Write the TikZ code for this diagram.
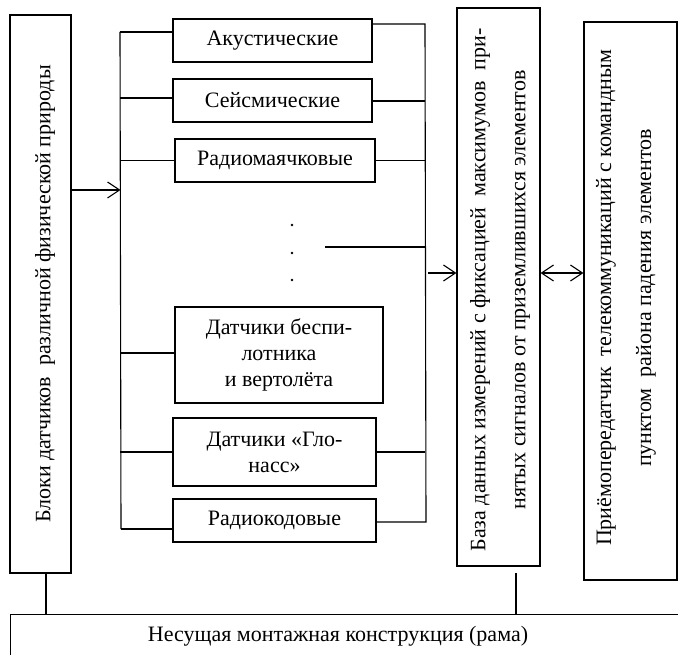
\documentclass[tikz,border=0pt]{standalone}
\usepackage{fontspec}
\setmainfont{Liberation Serif}
\usepackage{tikz}
\usetikzlibrary{arrows.meta}

\begin{document}
\begin{tikzpicture}[x=1pt,y=-1pt,line width=1.1pt,
    font=\fontsize{22}{26}\selectfont,
    sbox/.style={draw,inner sep=0pt,align=center},
    vtext/.style={rotate=90,align=center,font=\fontsize{22}{40}\selectfont},
    arr/.style={-{Straight Barb[length=12pt,width=16pt]}},
    arrb/.style={{Straight Barb[length=12pt,width=16pt]}-{Straight Barb[length=12pt,width=16pt]}}]
  \clip (0,0) rectangle (678,655);
  % big blocks
  \node[sbox,minimum width=61,minimum height=558] (blocks) at (40.5,294) {};
  \node[vtext] (blockstxt) at (45,294) {Блоки датчиков\ \ различной физической природы};
  \node[sbox,minimum width=83,minimum height=558] (db) at (498.5,287) {};
  \node[vtext] (dbtxt) at (500,290) {База данных измерений с фиксацией\ \ максимумов\ \ при-\\нятых сигналов от приземлившихся элементов};
  \node[sbox,minimum width=93,minimum height=558] (trx) at (630.5,301) {};
  \node[vtext] (trxtxt) at (626,298) {Приёмопередатчик\ \ телекоммуникаций с командным\\пунктом\ \ района падения элементов};
  \node[sbox,minimum width=690,minimum height=80,anchor=north west] (frame) at (10,614) {};
  \node (frametxt) at (338,636) {Несущая монтажная конструкция (рама)};
  % sensor boxes
  \node[sbox,minimum width=199,minimum height=43] (akust) at (272.5,40.5) {Акустические};
  \node[sbox,minimum width=199,minimum height=43] (seism) at (272.5,100.5) {Сейсмические};
  \node[sbox,minimum width=200,minimum height=43] (radio) at (275,160.5) {Радиомаячковые};
  \node[sbox,minimum width=208,minimum height=96] (uav) at (279,355) {Датчики беспи-\\лотника\\и вертолёта};
  \node[sbox,minimum width=203,minimum height=68] (glon) at (274.5,452) {Датчики «Гло-\\насс»};
  \node[sbox,minimum width=203,minimum height=43] (rcode) at (274.5,520.5) {Радиокодовые};
  \foreach \y in {225,253,280}
    \fill (292,\y) circle (1.3pt);
  % left bus
  \coordinate (lt) at (120,32);
  \coordinate (lb) at (121,529);
  \coordinate (lin) at (120.5,190);
  \draw (lt) -- (lb);
  \draw (lt) -- (akust.west |- lt);
  \draw (seism.west |- 0,98) -- (lt |- 0,98);
  \draw (radio.west) -- (radio.west -| lt);
  \draw (uav.west |- 0,353) -- (lt |- 0,353);
  \draw (glon.west) -- (glon.west -| lt);
  \draw (lb) -- (rcode.west |- lb);
  \draw[arr] (blocks.east |- lin) -- (lin);
  % right bus
  \coordinate (rt) at (425,24);
  \coordinate (rb) at (426,522);
  \coordinate (rout) at (428,273);
  \coordinate (dotsend) at (325,247);
  \draw (akust.east |- rt) -- (rt) -- (rb) -- (rcode.east |- rb);
  \draw (seism.east |- 0,101) -- (rt |- 0,101);
  \draw (radio.east) -- (radio.east -| rt);
  \draw (dotsend) -- (dotsend -| rt);
  \draw (glon.east) -- (glon.east -| rt);
  \draw[arr] (rout) -- (rout -| db.west);
  \draw[arrb] (db.east |- rout) -- (trx.west |- rout);
  % legs to the frame
  \coordinate (blleg) at (46,573);
  \coordinate (dbleg) at (516,573);
  \draw (blleg) -- (blleg |- frame.north);
  \draw (dbleg) -- (dbleg |- frame.north);
\end{tikzpicture}
\end{document}
